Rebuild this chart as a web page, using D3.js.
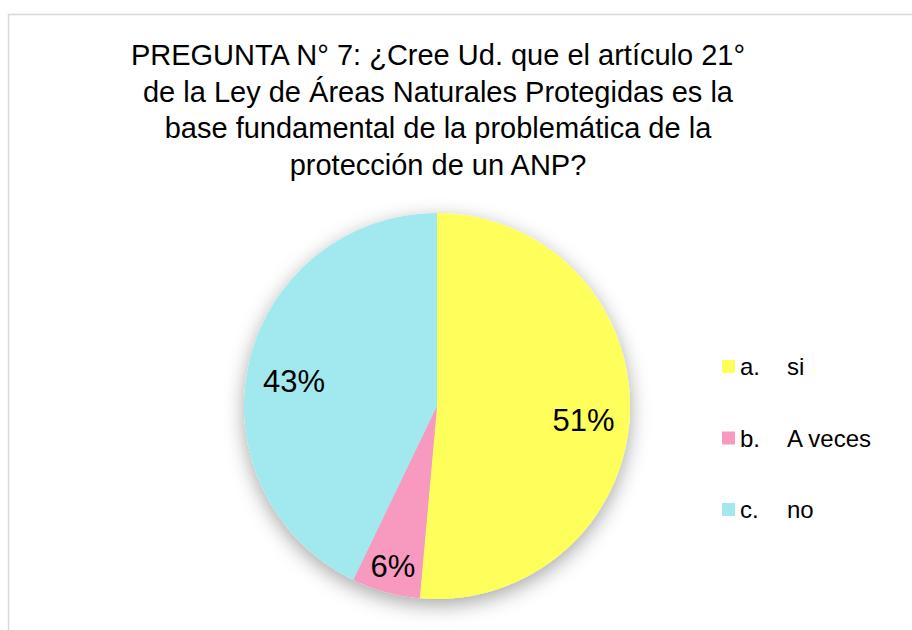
<!DOCTYPE html>
<html><head><meta charset="utf-8">
<script src="https://cdn.jsdelivr.net/npm/d3@7"></script>
<style>html,body{margin:0;padding:0;background:#fff;}svg{display:block;font-family:Arial,"Liberation Sans",sans-serif;}</style>
</head><body>
<script>
const categories = ["a.", "b.", "c."];
const categoryNames = ["si", "A veces", "no"];
const values = [18, 2, 15];
const colors = ["#FFFF5B", "#F899C0", "#A2E9EF"];
const titleLines = ["PREGUNTA N° 7: ¿Cree Ud. que el artículo 21°", "de la Ley de Áreas Naturales Protegidas es la", "base fundamental de la problemática de la", "protección de un ANP?"];

const W = 912, H = 630;
const svg = d3.select("body").append("svg").attr("width", W).attr("height", H);

svg.append("rect").attr("x", 8.5).attr("y", 14.5).attr("width", W + 10).attr("height", H + 10)
  .attr("fill", "#fff").attr("stroke", "#d9d9d9").attr("stroke-width", 1.5);

const defs = svg.append("defs");
const f = defs.append("filter").attr("id", "sh").attr("x", "-30%").attr("y", "-30%").attr("width", "160%").attr("height", "160%");
f.append("feDropShadow").attr("dx", 0).attr("dy", 6).attr("stdDeviation", 10).attr("flood-color", "#000").attr("flood-opacity", 0.35);

svg.append("g").selectAll("text").data(titleLines).join("text")
  .attr("x", 438).attr("y", (d, i) => 65 + i * 36.5)
  .attr("text-anchor", "middle").attr("font-size", 29).attr("fill", "#000").text(d => d);

const cx = 437, cy = 406, r = 193;
const total = d3.sum(values);
const pie = d3.pie().sort(null).value(d => d)(values);
const arc = d3.arc().innerRadius(0).outerRadius(r);
const g = svg.append("g").attr("transform", `translate(${cx},${cy})`);
const pg = g.append("g").attr("filter", "url(#sh)");
pg.selectAll("path").data(pie).join("path").attr("d", arc).attr("fill", (d, i) => colors[i]);

const lab = d3.arc().innerRadius(r * 0.76).outerRadius(r * 0.76);
const labSmall = d3.arc().innerRadius(r * 0.86).outerRadius(r * 0.86);
g.selectAll("text.lbl").data(pie).join("text").attr("class", "lbl")
  .attr("transform", d => {
    const small = d.data / total < 0.1;
    const c = (small ? labSmall : lab).centroid(d);
    return `translate(${c[0]},${c[1] + (small ? 0 : 7)})`;
  })
  .attr("text-anchor", "middle").attr("dy", "0.36em").attr("font-size", 31).attr("fill", "#000")
  .text(d => Math.round(d.data / total * 100) + "%");

const lg = svg.append("g");
const rows = lg.selectAll("g").data(categories).join("g")
  .attr("transform", (d, i) => `translate(722,${360 + i * 71.5})`);
rows.append("rect").attr("width", 13).attr("height", 13).attr("fill", (d, i) => colors[i]);
rows.append("text").attr("x", 18).attr("y", 15).attr("font-size", 24).attr("fill", "#000").text(d => d);
rows.append("text").attr("x", 65).attr("y", 15).attr("font-size", 24).attr("fill", "#000").text((d, i) => categoryNames[i]);
</script>
</body></html>
